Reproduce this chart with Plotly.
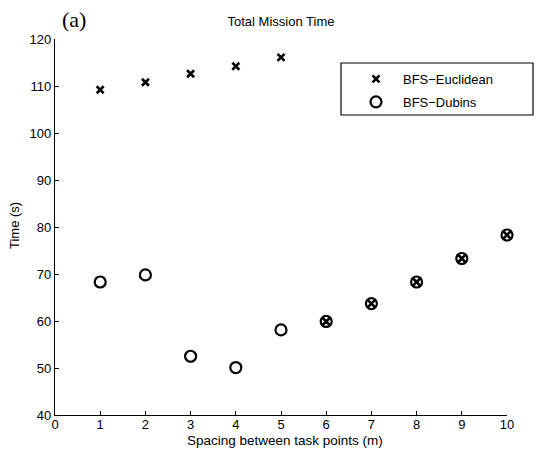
import plotly.graph_objects as go

spacing = [1, 2, 3, 4, 5, 6, 7, 8, 9, 10]
euclid_time = [109.2, 110.8, 112.6, 114.2, 116.1, 59.9, 63.7, 68.3, 73.3, 78.3]
dubins_time = [68.3, 69.8, 52.5, 50.1, 58.1, 59.9, 63.7, 68.3, 73.3, 78.3]

FONT = "Liberation Sans, Arial, sans-serif"
L, R, T, B = 55, 507, 39, 415
PW, PH = R - L, B - T

fig = go.Figure()
fig.add_trace(go.Scatter(
    x=spacing, y=euclid_time, mode="markers", name="BFS\u2212Euclidean",
    legendgroup="e", cliponaxis=False,
    marker=dict(symbol="x-thin", size=7, color="black",
                line=dict(width=2.6, color="black")),
))
fig.add_trace(go.Scatter(
    x=spacing, y=dubins_time, mode="markers", name="BFS\u2212Dubins",
    legendgroup="d", cliponaxis=False,
    marker=dict(symbol="circle-open", size=11, color="black",
                line=dict(width=2.2, color="black")),
))

fig.update_layout(
    width=549, height=450,
    margin=dict(l=L, r=549 - R, t=T, b=450 - B),
    paper_bgcolor="white", plot_bgcolor="white",
    font=dict(family=FONT, size=13, color="black"),
    title=dict(text="Total Mission Time", x=(L + R) / 2 / 549, xanchor="center",
               y=1 - 21 / 450, yanchor="middle",
               font=dict(family=FONT, size=13, color="black")),
    showlegend=True,
    legend=dict(x=(349 - L) / PW, y=(B - 64) / PH, xanchor="left", yanchor="top",
                bgcolor="rgba(0,0,0,0)", borderwidth=0,
                font=dict(family=FONT, size=13, color="black"),
                itemwidth=44, tracegroupgap=3),
    shapes=[dict(type="rect", xref="paper", yref="paper",
                 x0=(341 - L) / PW, x1=(533 - L) / PW,
                 y0=(B - 115) / PH, y1=(B - 63) / PH,
                 line=dict(color="black", width=1.2), fillcolor="white", layer="below")],
    annotations=[
        dict(text="(a)", xref="paper", yref="paper", showarrow=False,
             x=(60 - L) / PW, y=(B - 19) / PH, xanchor="left", yanchor="middle",
             font=dict(family="Liberation Serif, Times New Roman, serif",
                       size=22, color="black")),
        dict(text="Spacing between task points (m)", xref="paper", yref="paper",
             showarrow=False, x=(285 - L) / PW, y=(B - 441) / PH,
             xanchor="center", yanchor="middle",
             font=dict(family=FONT, size=13.5, color="black")),
        dict(text="Time (s)", xref="paper", yref="paper", textangle=-90,
             showarrow=False, x=(14 - L) / PW, y=(B - 226) / PH,
             xanchor="center", yanchor="middle",
             font=dict(family=FONT, size=13, color="black")),
    ],
)

fig.update_xaxes(
    range=[0, 10], tickmode="array", tickvals=list(range(0, 11)),
    ticks="inside", ticklen=4, tickwidth=1, tickcolor="black",
    showline=True, linecolor="black", linewidth=1.2, mirror=False,
    showgrid=False, zeroline=False, automargin=False, ticklabelstandoff=-3,
    tickfont=dict(family=FONT, size=13),
)
fig.update_yaxes(
    range=[40, 120], tickmode="array", tickvals=list(range(40, 121, 10)),
    ticks="inside", ticklen=4, tickwidth=1, tickcolor="black",
    showline=True, linecolor="black", linewidth=1.2, mirror=False,
    showgrid=False, zeroline=False, automargin=False,
    tickfont=dict(family=FONT, size=13),
)

fig.write_html("out.html")
